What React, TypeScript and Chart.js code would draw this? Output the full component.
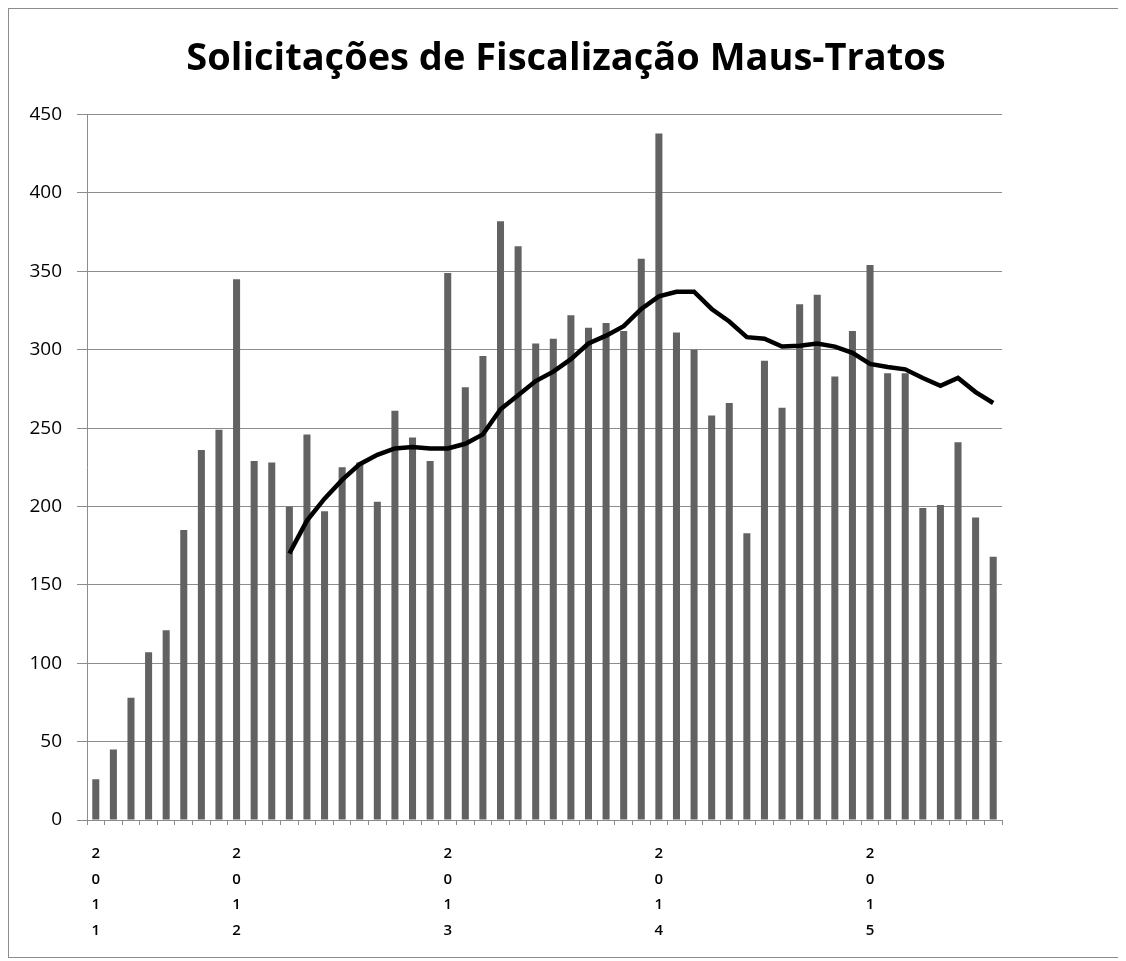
import React, { useEffect, useRef } from "react";
import { Chart, registerables } from "chart.js";

Chart.register(...registerables);

const TITLE = "Solicitações de Fiscalização Maus-Tratos";

// Monthly categories from May 2011 to Aug 2015; only January carries the year label
const yearLabels: Record<number, string[]> = {
  0: ["2", "0", "1", "1"],
  8: ["2", "0", "1", "2"],
  20: ["2", "0", "1", "3"],
  32: ["2", "0", "1", "4"],
  44: ["2", "0", "1", "5"],
};

const monthlyCounts = [
  26, 45, 78, 107, 121, 185, 236, 249, 345, 229, 228, 200,
  246, 197, 225, 228, 203, 261, 244, 229, 349, 276, 296, 382,
  366, 304, 307, 322, 314, 317, 312, 358, 438, 311, 300, 258,
  266, 183, 293, 263, 329, 335, 283, 312, 354, 285, 285, 199,
  201, 241, 193, 168,
];

const trendLine = [
  null, null, null, null, null, null, null, null, null, null, null, 170,
  191, 205, 217, 227, 233, 237, 238, 237, 237, 240, 246, 262,
  271, 280, 286, 294, 304, 309, 315, 326, 334, 337, 337, 326,
  318, 308, 307, 302, 302.5, 304, 302, 298, 291, 289, 287.5, 282,
  277, 282, 273, 266,
];

const categories = monthlyCounts.map((_, i) => yearLabels[i] ?? "");

const yTicks = { min: 0, max: 450, step: 50 };

export default function App() {
  const ref = useRef<HTMLCanvasElement | null>(null);

  useEffect(() => {
    if (!ref.current) return;
    const gridColor = "#8c8c8c";
    const chart = new Chart(ref.current, {
      type: "bar",
      data: {
        labels: categories,
        datasets: [
          {
            type: "line",
            data: trendLine,
            borderColor: "#000000",
            borderWidth: 4.5,
            pointRadius: 0,
            tension: 0,
            fill: false,
            spanGaps: false,
            order: 0,
            yAxisID: "y",
          } as any,
          {
            type: "bar",
            data: monthlyCounts,
            backgroundColor: "#626262",
            borderWidth: 0,
            barPercentage: 0.4,
            categoryPercentage: 1,
            order: 1,
            yAxisID: "y",
          },
        ],
      },
      options: {
        responsive: false,
        animation: false,
        devicePixelRatio: 1,
        layout: { padding: 0 },
        plugins: {
          legend: { display: false },
          tooltip: { enabled: false },
          title: {
            display: true,
            text: TITLE,
            color: "#000000",
            font: { family: "'Open Sans', sans-serif", size: 38, weight: "bold" },
            padding: { top: 27, bottom: 33 },
          },
        },
        scales: {
          x: {
            offset: true,
            grid: {
              display: true,
              drawOnChartArea: false,
              drawTicks: true,
              tickLength: 5,
              color: gridColor,
              offset: true,
            },
            border: { display: true, color: gridColor },
            ticks: {
              autoSkip: false,
              maxRotation: 0,
              minRotation: 0,
              padding: 16,
              color: "#000000",
              font: { family: "'Open Sans', sans-serif", size: 15, weight: "600", lineHeight: 1.7 },
            },
            afterFit: (scale: any) => {
              scale.height = 137;
            },
          },
          y: {
            min: yTicks.min,
            max: yTicks.max,
            grid: { color: gridColor, tickLength: 10, lineWidth: 1 },
            border: { display: true, color: gridColor },
            ticks: {
              stepSize: yTicks.step,
              padding: 15,
              color: "#000000",
              font: { family: "'Open Sans', sans-serif", size: 19 },
            },
            afterFit: (scale: any) => {
              scale.width = 78;
            },
          },
          yRightSpace: {
            position: "right",
            min: yTicks.min,
            max: yTicks.max,
            grid: { display: false, drawOnChartArea: false },
            border: { display: false },
            ticks: { display: false },
            afterFit: (scale: any) => {
              scale.width = 121;
            },
          },
        },
      },
    });
    return () => chart.destroy();
  }, []);

  return (
    <div style={{ width: 1114, height: 948, border: "1px solid #8c8c8c", background: "#fff" }}>
      <canvas ref={ref} width={1114} height={948} style={{ display: "block" }} />
    </div>
  );
}
